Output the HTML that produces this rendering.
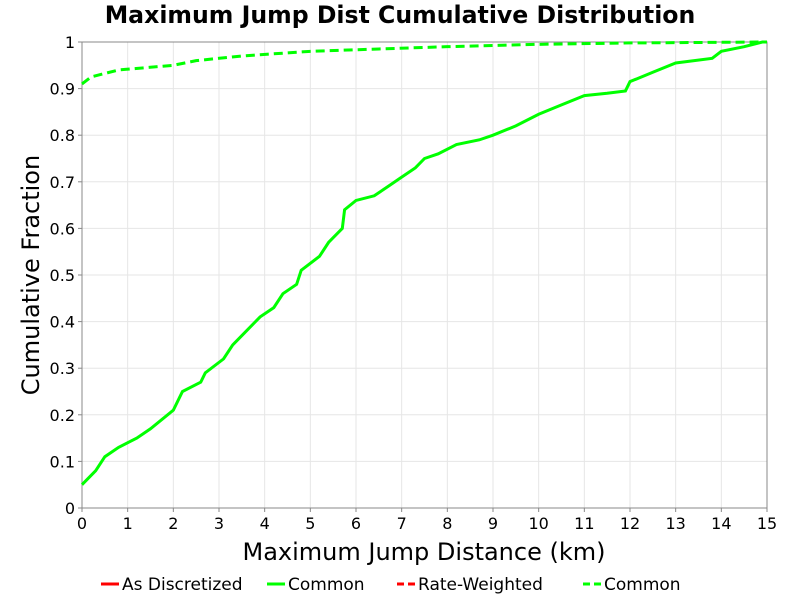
<!DOCTYPE html>
<html><head><meta charset="utf-8"><style>
body{margin:0;background:#fff;font-family:"Liberation Sans","DejaVu Sans",sans-serif}
</style></head><body>
<svg width="800" height="600" xmlns="http://www.w3.org/2000/svg">
<rect width="800" height="600" fill="#fff"/>
<text x="400" y="23" text-anchor="middle" font-size="23.6" font-weight="bold" font-family="DejaVu Sans, sans-serif">Maximum Jump Dist Cumulative Distribution</text>
<g id="grid"></g>
<rect x="82" y="42" width="685" height="466" fill="none" stroke="#888" stroke-width="1"/>
<g id="axes" font-family="DejaVu Sans, sans-serif" font-size="16"></g>
<text x="424" y="560" text-anchor="middle" font-size="24" font-family="DejaVu Sans, sans-serif">Maximum Jump Distance (km)</text>
<text transform="translate(39,275) rotate(-90)" text-anchor="middle" font-size="24" font-family="DejaVu Sans, sans-serif">Cumulative Fraction</text>
<g id="series"></g>
<g font-family="DejaVu Sans, sans-serif" font-size="17">
<g><line x1="101" y1="584" x2="119" y2="584" stroke="#f00" stroke-width="3"/><text x="122" y="590">As Discretized</text></g>
<g><line x1="267" y1="584" x2="285" y2="584" stroke="#0f0" stroke-width="3"/><text x="288" y="590">Common</text></g>
<g><line x1="397" y1="584" x2="415" y2="584" stroke="#f00" stroke-width="3" stroke-dasharray="7,4"/><text x="418" y="590">Rate-Weighted</text></g>
<g><line x1="583" y1="584" x2="601" y2="584" stroke="#0f0" stroke-width="3" stroke-dasharray="7,4"/><text x="604" y="590">Common</text></g>
</g>
</svg>
<script>
const xTicks=[0,1,2,3,4,5,6,7,8,9,10,11,12,13,14,15];
const yTicks=[0,0.1,0.2,0.3,0.4,0.5,0.6,0.7,0.8,0.9,1];
const yTickLabels=["0","0.1","0.2","0.3","0.4","0.5","0.6","0.7","0.8","0.9","1"];
const solidX=[0,0.3,0.5,0.8,1.2,1.5,2,2.2,2.6,2.7,3.1,3.3,3.6,3.9,4.2,4.4,4.7,4.8,5.2,5.4,5.7,5.75,6,6.4,6.7,7,7.3,7.5,7.8,8.2,8.7,9,9.5,10,10.5,11,11.5,11.9,12,12.5,13,13.8,14,14.5,14.9,15];
const solidY=[0.05,0.08,0.11,0.13,0.15,0.17,0.21,0.25,0.27,0.29,0.32,0.35,0.38,0.41,0.43,0.46,0.48,0.51,0.54,0.57,0.60,0.64,0.66,0.67,0.69,0.71,0.73,0.75,0.76,0.78,0.79,0.80,0.82,0.845,0.865,0.885,0.89,0.895,0.915,0.935,0.955,0.965,0.98,0.99,1.0,1.0];
const dashX=[0,0.2,0.8,2,2.5,3.5,5,6.5,8,10,12,15];
const dashY=[0.91,0.925,0.94,0.95,0.96,0.97,0.98,0.985,0.99,0.995,0.998,1];
const X0=82,X1=767,Y0=508,Y1=42;
const sx=v=>X0+(v-0)/(15-0)*(X1-X0);
const sy=v=>Y0-(v-0)/(1-0)*(Y0-Y1);
const NS="http://www.w3.org/2000/svg";
const grid=document.getElementById('grid'),axes=document.getElementById('axes'),ser=document.getElementById('series');
function mk(tag,attrs,parent){const e=document.createElementNS(NS,tag);for(const k in attrs)e.setAttribute(k,attrs[k]);parent.appendChild(e);return e;}
xTicks.forEach(t=>{
 const g=mk('line',{x1:sx(t),x2:sx(t),y1:Y1,y2:Y0,stroke:'#e6e6e6','stroke-width':1},grid);
 
 
 const tk=mk('line',{x1:sx(t),x2:sx(t),y1:Y0,y2:Y0+4,stroke:'#888'},axes);
 
 
 const tx=mk('text',{x:sx(t),y:Y0+21,'text-anchor':'middle'},axes);tx.textContent=String(t);
 
 
});
yTicks.forEach((t,i)=>{
 const g=mk('line',{x1:X0,x2:X1,y1:sy(t),y2:sy(t),stroke:'#e6e6e6','stroke-width':1},grid);
 
 
 const tk=mk('line',{x1:X0-4,x2:X0,y1:sy(t),y2:sy(t),stroke:'#888'},axes);
 
 
 const tx=mk('text',{x:X0-7,y:sy(t)+6,'text-anchor':'end'},axes);tx.textContent=yTickLabels[i];
 
 
});
function pts(xs,ys){return xs.map((x,i)=>sx(x)+','+sy(ys[i])).join(' ');}
const s1=mk('polyline',{points:pts(solidX,solidY),fill:'none',stroke:'#0f0','stroke-width':3},ser);


const s2=mk('polyline',{points:pts(dashX,dashY),fill:'none',stroke:'#0f0','stroke-width':3,'stroke-dasharray':'9,5'},ser);


</script>
</body></html>
